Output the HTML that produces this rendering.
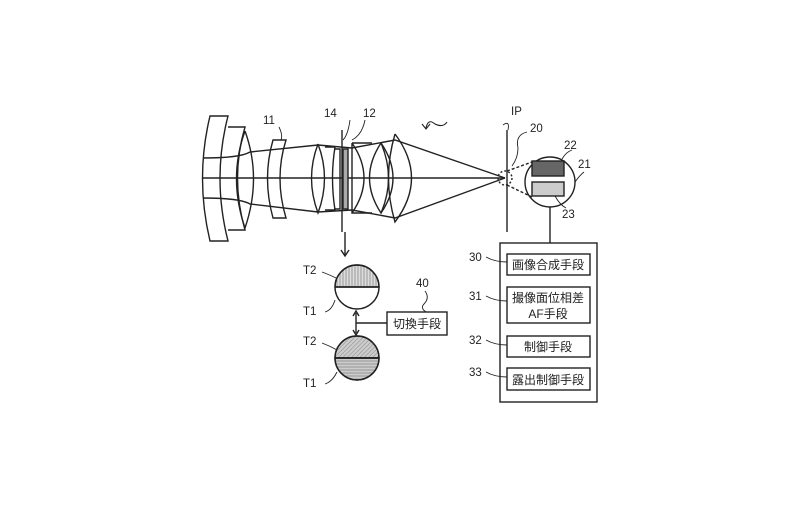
<!DOCTYPE html>
<html><head><meta charset="utf-8"><style>
html,body{margin:0;padding:0;background:#fff;width:800px;height:508px;overflow:hidden}
svg{display:block}
text{font-family:"Liberation Sans","Noto Sans CJK JP",sans-serif;fill:#222}
</style></head><body>
<svg width="800" height="508" viewBox="0 0 800 508" xmlns="http://www.w3.org/2000/svg">
<defs>
<pattern id="vs" width="3" height="3" patternUnits="userSpaceOnUse"><rect width="3" height="3" fill="#ddd"/><line x1="1" y1="0" x2="1" y2="3" stroke="#888" stroke-width="0.8"/></pattern>
<pattern id="ds" width="3" height="3" patternUnits="userSpaceOnUse" patternTransform="rotate(45)"><rect width="3" height="3" fill="#ccc"/><line x1="0" y1="0" x2="0" y2="3" stroke="#777" stroke-width="0.8"/></pattern>
<pattern id="hs" width="3" height="3" patternUnits="userSpaceOnUse"><rect width="3" height="3" fill="#ccc"/><line x1="0" y1="1" x2="3" y2="1" stroke="#888" stroke-width="0.8"/></pattern>
</defs>
<g fill="none" stroke="#222" stroke-width="1.4">
<line x1="203" y1="178" x2="505" y2="178"/>
<path d="M210,116 L228,116 Q212,178 228,241 L210,241 Q195,178 210,116 Z"/>
<path d="M228,127 L245,127 Q230,178 245,230 L228,230"/>
<path d="M245,131 Q262,178 245,228 Q228,178 245,131"/>
<path d="M273,140 L286,140 Q274,178 286,218 L273,218 Q262,178 273,140 Z"/>
<path d="M318,144 Q331,178 318,213 Q305,178 318,144"/>
<path d="M325,147 L335,147 Q330,178 335,210 L325,210"/>
<path d="M334,149 L340,149 L340,209 L334,209"/>
<rect x="343" y="149" width="5" height="60" fill="#aaa"/>
<line x1="342" y1="130" x2="342" y2="232"/>
<line x1="345" y1="232" x2="345" y2="255"/>
<path d="M341,250 L345,256 L349,250"/>
<path d="M352,143 L372,143 M352,143 L352,213 L372,213 M352,143 Q376,178 352,213"/>
<path d="M381,143 Q358,178 381,213 Q396,178 381,143"/>
<path d="M381,143 Q405,178 381,213"/>
<path d="M395,134 Q428,178 395,222 Q382,178 395,134"/>
<path d="M203,158 Q240,158 250,152 L318,145 L352,148 L395,140 L505,178"/>
<path d="M203,198 Q240,198 250,204 L318,212 L352,210 L395,218 L505,178"/>
<line x1="507" y1="130" x2="507" y2="232"/>
<circle cx="505" cy="178" r="7" stroke-dasharray="2,2"/>
<line x1="507" y1="171" x2="532" y2="162" stroke-dasharray="3,2"/>
<line x1="507" y1="185" x2="532" y2="197" stroke-dasharray="3,2"/>
<circle cx="550" cy="182" r="25"/>
<rect x="532" y="161" width="32" height="15" fill="#666"/>
<rect x="532" y="182" width="32" height="14" fill="#ccc"/>
<line x1="550" y1="207" x2="550" y2="243"/>
<path d="M527,132 Q515,135 518,148 Q518,158 512,166" stroke-width="0.9"/>
<path d="M503,125 Q510,120 508,130" stroke-width="0.9"/>
<path d="M350,120 Q348,135 343,140" stroke-width="0.9"/>
<path d="M365,120 Q362,135 352,140" stroke-width="0.9"/>
<path d="M279,127 Q283,135 281,140" stroke-width="0.9"/>
<path d="M562,159 Q566,152 572,150" stroke-width="0.9"/>
<path d="M575,182 Q580,175 584,172" stroke-width="0.9"/>
<path d="M555,196 Q560,205 566,208" stroke-width="0.9"/>
<path d="M447,122 Q443,128 435,124 Q428,118 426,128" stroke-width="1.1"/>
<path d="M422,124 L426,129 L430,124" stroke-width="1.1"/>
<rect x="500" y="243" width="97" height="159"/>
<rect x="507" y="254" width="83" height="21"/>
<rect x="507" y="287" width="83" height="36"/>
<rect x="507" y="336" width="83" height="21"/>
<rect x="507" y="368" width="83" height="22"/>
<path d="M486,257 Q495,262 507,262" stroke-width="0.9"/>
<path d="M486,296 Q495,301 507,301" stroke-width="0.9"/>
<path d="M486,340 Q495,345 507,345" stroke-width="0.9"/>
<path d="M486,372 Q495,377 507,377" stroke-width="0.9"/>
<path d="M335,287 A22,22 0 0 1 379,287 Z" fill="url(#vs)"/>
<circle cx="357" cy="287" r="22"/>
<line x1="335" y1="287" x2="379" y2="287" stroke-width="1.6"/>
<path d="M335,358 A22,22 0 0 1 379,358 Z" fill="url(#ds)"/>
<path d="M335,358 A22,22 0 0 0 379,358 Z" fill="url(#hs)"/>
<circle cx="357" cy="358" r="22"/>
<line x1="335" y1="358" x2="379" y2="358" stroke-width="1.8"/>
<line x1="356" y1="313" x2="356" y2="333"/>
<path d="M353,316 L356,311 L359,316 M353,330 L356,335 L359,330"/>
<line x1="356" y1="323" x2="387" y2="323"/>
<rect x="387" y="312" width="60" height="23"/>
<path d="M425,291 Q430,298 424,304 Q420,308 426,312" stroke-width="0.9"/>
<path d="M322,272 Q330,275 336,278" stroke-width="0.9"/>
<path d="M325,312 Q332,310 335,300" stroke-width="0.9"/>
<path d="M322,343 Q330,346 337,350" stroke-width="0.9"/>
<path d="M325,384 Q332,382 337,372" stroke-width="0.9"/>
</g>
<g font-size="11.5">
<text x="263" y="124">11</text>
<text x="324" y="117">14</text>
<text x="363" y="117">12</text>
<text x="511" y="115">IP</text>
<text x="530" y="132">20</text>
<text x="564" y="149">22</text>
<text x="578" y="168">21</text>
<text x="562" y="218">23</text>
<text x="469" y="261">30</text>
<text x="469" y="300">31</text>
<text x="469" y="344">32</text>
<text x="469" y="376">33</text>
<text x="416" y="287">40</text>
<text x="303" y="274">T2</text>
<text x="303" y="315">T1</text>
<text x="303" y="345">T2</text>
<text x="303" y="387">T1</text>
</g>
<g font-size="12" text-anchor="middle">
<text x="548" y="269">画像合成手段</text>
<text x="548" y="302">撮像面位相差</text>
<text x="548" y="318">AF手段</text>
<text x="548" y="351">制御手段</text>
<text x="548" y="384">露出制御手段</text>
<text x="417" y="328">切換手段</text>
</g>
</svg>
</body></html>
